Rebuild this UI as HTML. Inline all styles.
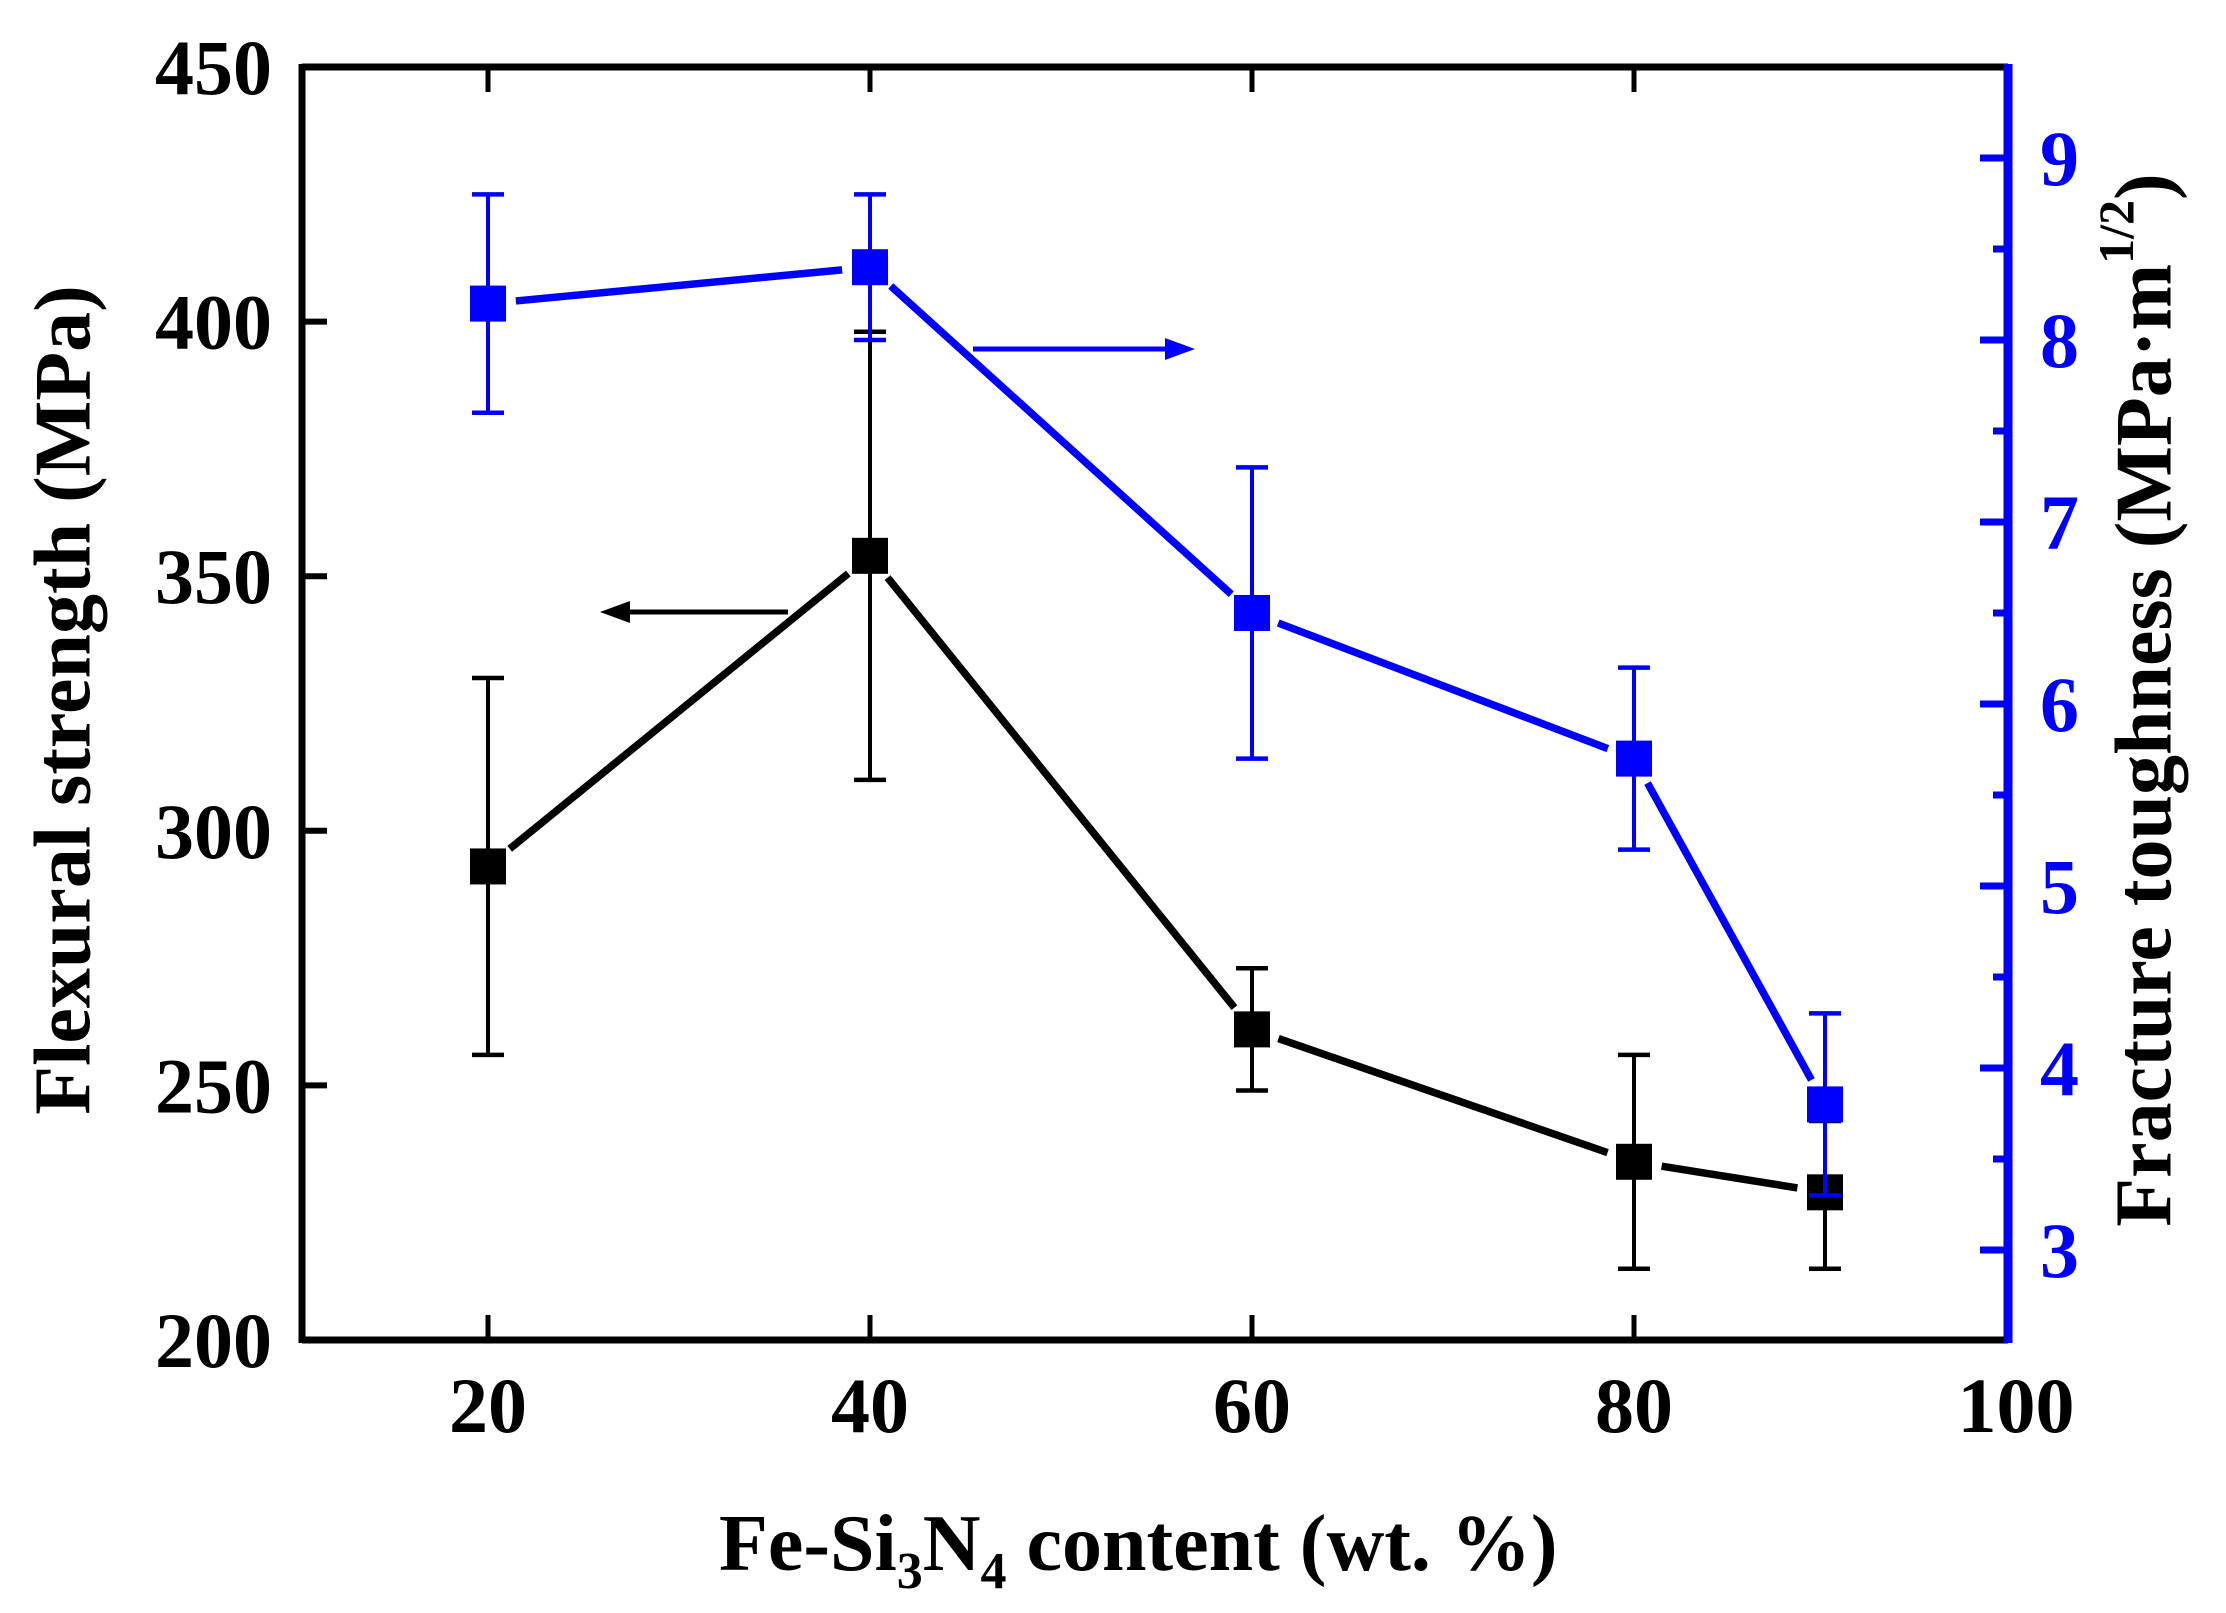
<!DOCTYPE html>
<html><head><meta charset="utf-8"><style>
html,body{margin:0;padding:0;background:#fff;}
svg{display:block;font-family:"Liberation Serif",serif;font-weight:bold;}
</style></head><body>
<svg id="s" width="2226" height="1613" viewBox="0 0 2226 1613" xmlns="http://www.w3.org/2000/svg">
<rect width="2226" height="1613" fill="#fff"/>
<g id="g"></g>
<text x="71" y="700" font-size="80" text-anchor="middle" transform="rotate(-90 71 700)" dominant-baseline="middle">Flexural strength (MPa)</text>
<text x="2152" y="700" font-size="80" text-anchor="middle" transform="rotate(-90 2152 700)" dominant-baseline="middle">Fracture toughness (MPa·m<tspan font-size="50" dy="-30">1/2</tspan><tspan dy="30">)</tspan></text>
<text x="719" y="1570" font-size="80">Fe-Si<tspan font-size="52" dy="18">3</tspan><tspan dy="-18">N</tspan><tspan font-size="52" dy="18">4</tspan><tspan dy="-18"> content (wt. %)</tspan></text>
</svg>
<script>
var g=document.getElementById('g'),NS='http://www.w3.org/2000/svg';
function el(t,a,txt){var e=document.createElementNS(NS,t);for(var k in a)e.setAttribute(k,a[k]);if(txt!==undefined)e.textContent=txt;g.appendChild(e);return e;}
var L=302,R=2008,T=67,B=1340;
function X(v){return 488+(v-20)*(382/20);}
function YL(v){return B-(v-200)*(1273/250);}
function YR(v){return 1250-(v-3)*182;}
[20,40,60,80].forEach(function(v){var x=X(v);
 el('line',{x1:x,y1:B,x2:x,y2:B-25,stroke:'#000','stroke-width':5});
 el('line',{x1:x,y1:T,x2:x,y2:T+25,stroke:'#000','stroke-width':5});});
[20,40,60,80,100].forEach(function(v){el('text',{x:X(v),y:1432,'font-size':78,'text-anchor':'middle'},v);});
[250,300,350,400].forEach(function(v){var y=YL(v);el('line',{x1:L,y1:y,x2:L+25,y2:y,stroke:'#000','stroke-width':6});});
[200,250,300,350,400,450].forEach(function(v){el('text',{x:272,y:YL(v)+27,'font-size':78,'text-anchor':'end'},v);});
for(var v=3;v<=9.01;v+=0.5){var y=YR(v),maj=Math.abs(v-Math.round(v))<0.01;
 el('line',{x1:R,y1:y,x2:R-(maj?28:15),y2:y,stroke:'#00f','stroke-width':7});
 if(maj)el('text',{x:2040,y:y+27,'font-size':78,fill:'#00f'},Math.round(v));}
el('line',{x1:L,y1:T,x2:R,y2:T,stroke:'#000','stroke-width':7});
el('line',{x1:L,y1:B,x2:R,y2:B,stroke:'#000','stroke-width':7});
el('line',{x1:L,y1:T-3,x2:L,y2:B+3,stroke:'#000','stroke-width':7});
el('line',{x1:R,y1:T-3,x2:R,y2:B+3,stroke:'#00f','stroke-width':9});
var xs=[20,40,60,80,90];
var bk=[[293,256,330],[354,310,398],[261,249,273],[235,214,256],[229,214,243]];
var bl=[[8.2,7.6,8.8],[8.4,8.0,8.8],[6.5,5.7,7.3],[5.7,5.2,6.2],[3.8,3.3,4.3]];
function series(d,Y,c){
 var pts=d.map(function(p,i){return [X(xs[i]),Y(p[0])];});
 for(var i=0;i<pts.length-1;i++){var a=pts[i],b=pts[i+1],dx=b[0]-a[0],dy=b[1]-a[1],len=Math.hypot(dx,dy),g2=28;
  el('line',{x1:a[0]+dx/len*g2,y1:a[1]+dy/len*g2,x2:b[0]-dx/len*g2,y2:b[1]-dy/len*g2,stroke:c,'stroke-width':7.5});}
 d.forEach(function(p,i){var x=pts[i][0],y1=Y(p[1]),y2=Y(p[2]);
  el('line',{x1:x,y1:y1,x2:x,y2:y2,stroke:c,'stroke-width':4});
  el('line',{x1:x-16,y1:y1,x2:x+16,y2:y1,stroke:c,'stroke-width':4.5});
  el('line',{x1:x-16,y1:y2,x2:x+16,y2:y2,stroke:c,'stroke-width':4.5});
  el('rect',{x:x-18,y:pts[i][1]-18,width:36,height:36,fill:c});});
}
series(bk,YL,'#000');series(bl,YR,'#00f');
el('line',{x1:788,y1:612,x2:620,y2:612,stroke:'#000','stroke-width':5});
el('polygon',{points:'600,612 630,601 630,623',fill:'#000'});
el('line',{x1:973,y1:349,x2:1175,y2:349,stroke:'#00f','stroke-width':5});
el('polygon',{points:'1195,349 1165,338 1165,360',fill:'#00f'});
</script>
</body></html>
